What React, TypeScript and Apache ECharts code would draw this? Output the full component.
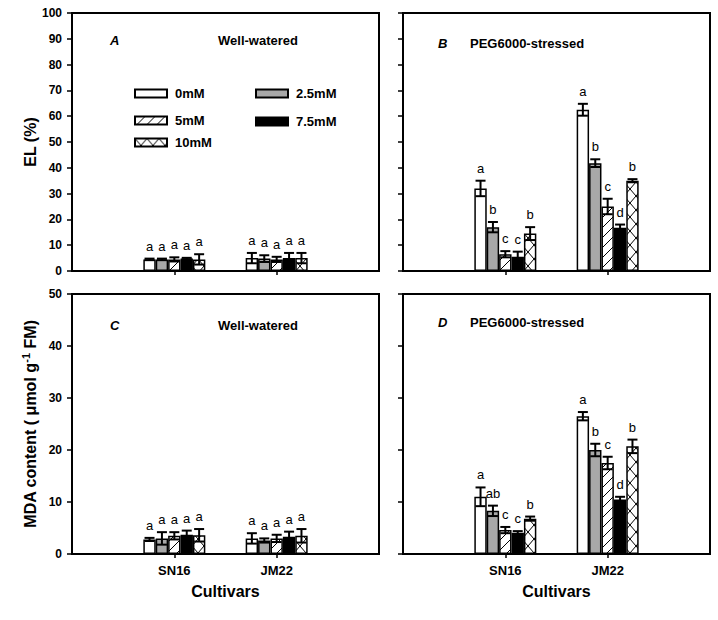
import React, { useEffect, useRef } from "react";
import * as echarts from "echarts";

const categories = ["", "SN16", "JM22", ""];
const treatments = ["0mM", "2.5mM", "5mM", "7.5mM", "10mM"];

// rows = treatments, cols = [SN16, JM22]
const elWellMean = [[4.5, 5.0], [4.5, 4.8], [4.5, 4.5], [4.8, 5.0], [4.5, 5.0]];
const elWellErr = [[0.3, 2.0], [0.3, 1.3], [0.8, 1.0], [0.3, 2.0], [2.0, 2.0]];
const elWellSig = [["a", "a"], ["a", "a"], ["a", "a"], ["a", "a"], ["a", "a"]];

const elStressMean = [[32, 62.5], [17, 41.8], [6.5, 25], [5.5, 16.8], [14.5, 35]];
const elStressErr = [[3, 2.3], [2, 1.5], [1.2, 3], [2, 1.2], [2.5, 0.6]];
const elStressSig = [["a", "a"], ["b", "b"], ["c", "c"], ["c", "d"], ["b", "b"]];

const mdaWellMean = [[2.8, 3.0], [3.0, 2.6], [3.5, 3.0], [3.7, 3.3], [3.6, 3.5]];
const mdaWellErr = [[0.3, 1.0], [1.2, 0.4], [0.7, 0.7], [0.8, 1.0], [1.2, 1.3]];
const mdaWellSig = [["a", "a"], ["a", "a"], ["a", "a"], ["a", "a"], ["a", "a"]];

const mdaStressMean = [[11, 26.5], [8.3, 20], [4.6, 17.5], [4.1, 10.5], [6.8, 20.7]];
const mdaStressErr = [[1.8, 0.8], [1.0, 1.2], [0.6, 1.2], [0.3, 0.5], [0.4, 1.3]];
const mdaStressSig = [["a", "a"], ["ab", "b"], ["c", "c"], ["c", "d"], ["b", "b"]];

const FONT = '"Liberation Sans", Arial, sans-serif';
const BAR_W = 12.4;

function makeDiag(): HTMLCanvasElement {
  const c = document.createElement("canvas");
  c.width = 10;
  c.height = 10;
  const ctx = c.getContext("2d")!;
  ctx.fillStyle = "#fff";
  ctx.fillRect(0, 0, 10, 10);
  ctx.strokeStyle = "#000";
  ctx.lineWidth = 1;
  ctx.beginPath();
  ctx.moveTo(-1, 11);
  ctx.lineTo(11, -1);
  ctx.moveTo(-1, 1);
  ctx.lineTo(1, -1);
  ctx.moveTo(9, 11);
  ctx.lineTo(11, 9);
  ctx.stroke();
  return c;
}

function makeCross(): HTMLCanvasElement {
  const c = document.createElement("canvas");
  const w = 12, h = 14;
  c.width = w;
  c.height = h;
  const ctx = c.getContext("2d")!;
  ctx.fillStyle = "#fff";
  ctx.fillRect(0, 0, w, h);
  ctx.strokeStyle = "#000";
  ctx.lineWidth = 1;
  ctx.beginPath();
  ctx.moveTo(0, 0);
  ctx.lineTo(w, h);
  ctx.moveTo(w, 0);
  ctx.lineTo(0, h);
  ctx.stroke();
  return c;
}

export default function App() {
  const ref = useRef<HTMLDivElement>(null);

  useEffect(() => {
    if (!ref.current) return;
    const chart = echarts.init(ref.current, null, { renderer: "svg" });

    const diag = makeDiag();
    const cross = makeCross();
    const border = { borderColor: "#000", borderWidth: 1.5 };
    const styles: any[] = [
      { color: "#ffffff", ...border },
      { color: "#a8a8a8", ...border },
      { color: { image: diag, repeat: "repeat" }, ...border },
      { color: "#000000", ...border },
      { color: { image: cross, repeat: "repeat" }, ...border },
    ];

    const grids = [
      { left: 72, top: 13, width: 307, height: 258 },
      { left: 403, top: 13, width: 307, height: 258 },
      { left: 72, top: 294, width: 307, height: 260 },
      { left: 403, top: 294, width: 307, height: 260 },
    ].map((g) => ({ ...g, show: true, borderColor: "#000", borderWidth: 2, backgroundColor: "transparent" }));

    const panels = [
      { mean: elWellMean, err: elWellErr, sig: elWellSig, max: 100 },
      { mean: elStressMean, err: elStressErr, sig: elStressSig, max: 100 },
      { mean: mdaWellMean, err: mdaWellErr, sig: mdaWellSig, max: 50 },
      { mean: mdaStressMean, err: mdaStressErr, sig: mdaStressSig, max: 50 },
    ];

    const xAxis = panels.map((p, i) => ({
      type: "category",
      gridIndex: i,
      data: categories,
      boundaryGap: false,
      axisLine: { show: true, lineStyle: { color: "#000", width: 2 } },
      axisTick: {
        show: true,
        length: 4,
        interval: (idx: number) => idx === 1 || idx === 2,
        lineStyle: { color: "#000", width: 1.5 },
      },
      axisLabel: {
        show: i >= 2,
        interval: 0,
        margin: 10,
        color: "#000",
        fontFamily: FONT,
        fontWeight: "bold",
        fontSize: 13,
      },
      splitLine: { show: false },
      name: i >= 2 ? "Cultivars" : "",
      nameLocation: "middle",
      nameGap: 29,
      nameTextStyle: { color: "#000", fontFamily: FONT, fontWeight: "bold", fontSize: 16 },
    }));

    const yAxis = panels.map((p, i) => ({
      type: "value",
      gridIndex: i,
      min: 0,
      max: p.max,
      interval: 10,
      axisLine: { show: true, lineStyle: { color: "#000", width: 2 } },
      axisTick: { show: true, length: 5, inside: false, lineStyle: { color: "#000", width: 1.5 } },
      axisLabel: {
        show: i % 2 === 0,
        margin: 10,
        color: "#000",
        fontFamily: FONT,
        fontWeight: "bold",
        fontSize: 12,
      },
      splitLine: { show: false },
      name: i === 0 ? "EL (%)" : i === 2 ? "{a|MDA content ( μmol g}{s|-1}{a| FM)}" : "",
      nameLocation: "middle",
      nameGap: 31,
      nameTextStyle: {
        color: "#000",
        fontFamily: FONT,
        fontWeight: "bold",
        fontSize: 16,
        rich: {
          a: { color: "#000", fontFamily: FONT, fontWeight: "bold", fontSize: 16 },
          s: { color: "#000", fontFamily: FONT, fontWeight: "bold", fontSize: 11, padding: [0, 0, 10, 0] },
        },
      },
    }));

    const series: any[] = [];
    panels.forEach((p, gi) => {
      treatments.forEach((name, t) => {
        series.push({
          type: "bar",
          name,
          xAxisIndex: gi,
          yAxisIndex: gi,
          barWidth: BAR_W,
          barGap: "0%",
          itemStyle: styles[t],
          data: ["-", p.mean[t][0], p.mean[t][1], "-"],
          silent: true,
          z: 2,
        });
      });
      const errData: number[][] = [];
      treatments.forEach((_, t) => {
        [0, 1].forEach((c) => {
          errData.push([c + 1, p.mean[t][c], p.err[t][c], t, c]);
        });
      });
      series.push({
        type: "custom",
        name: "err" + gi,
        xAxisIndex: gi,
        yAxisIndex: gi,
        z: 5,
        silent: true,
        clip: false,
        itemStyle: { color: "#000" },
        encode: { x: 0, y: 1 },
        data: errData,
        renderItem: (params: any, api: any) => {
          const cat = api.value(0);
          const m = api.value(1);
          const e = api.value(2);
          const t = api.value(3);
          const c = api.value(4);
          const base = api.coord([cat, m]);
          const x = base[0] + (t - 2) * BAR_W;
          const yTop = api.coord([cat, m + e])[1];
          const yBot = api.coord([cat, Math.max(0, m - e)])[1];
          const hw = 5;
          const ls = { stroke: "#000", lineWidth: 2 };
          return {
            type: "group",
            children: [
              { type: "line", shape: { x1: x, y1: yTop, x2: x, y2: yBot }, style: ls },
              { type: "line", shape: { x1: x - hw, y1: yTop, x2: x + hw, y2: yTop }, style: ls },
              { type: "line", shape: { x1: x - hw, y1: yBot, x2: x + hw, y2: yBot }, style: ls },
              {
                type: "text",
                x: x,
                y: yTop - 6,
                style: {
                  text: p.sig[t][c],
                  fill: "#000",
                  fontFamily: FONT,
                  fontSize: 13,
                  align: "center",
                  verticalAlign: "bottom",
                },
              },
            ],
          };
        },
      });
    });

    const legendPos = [
      { x: 134, y: 94 },
      { x: 255, y: 94 },
      { x: 134, y: 121 },
      { x: 255, y: 122 },
      { x: 134, y: 143 },
    ];
    const legend = treatments.map((name, i) => ({
      data: [name],
      left: legendPos[i].x,
      top: legendPos[i].y - 7,
      padding: 0,
      itemWidth: 32,
      itemHeight: 8,
      icon: "rect",
      selectedMode: false,
      textStyle: { color: "#000", fontFamily: FONT, fontWeight: "bold", fontSize: 13, padding: [0, 0, 0, 3] },
    }));

    const txt = (x: number, y: number, text: string, italic = false) => ({
      type: "text",
      x,
      y,
      style: {
        text,
        fill: "#000",
        fontFamily: FONT,
        fontWeight: "bold",
        fontStyle: italic ? "italic" : "normal",
        fontSize: 13,
        verticalAlign: "middle",
      },
    });

    chart.setOption({
      animation: false,
      backgroundColor: "#fff",
      grid: grids,
      xAxis,
      yAxis,
      legend,
      series,
      graphic: [
        txt(110, 40, "A", true),
        txt(218, 40, "Well-watered"),
        txt(438, 43, "B", true),
        txt(470, 43, "PEG6000-stressed"),
        txt(110, 325, "C", true),
        txt(218, 325, "Well-watered"),
        txt(438, 322, "D", true),
        txt(470, 322, "PEG6000-stressed"),
      ],
    });

    return () => chart.dispose();
  }, []);

  return <div ref={ref} style={{ width: 718, height: 620, position: "absolute", left: 0, top: 0 }} />;
}
